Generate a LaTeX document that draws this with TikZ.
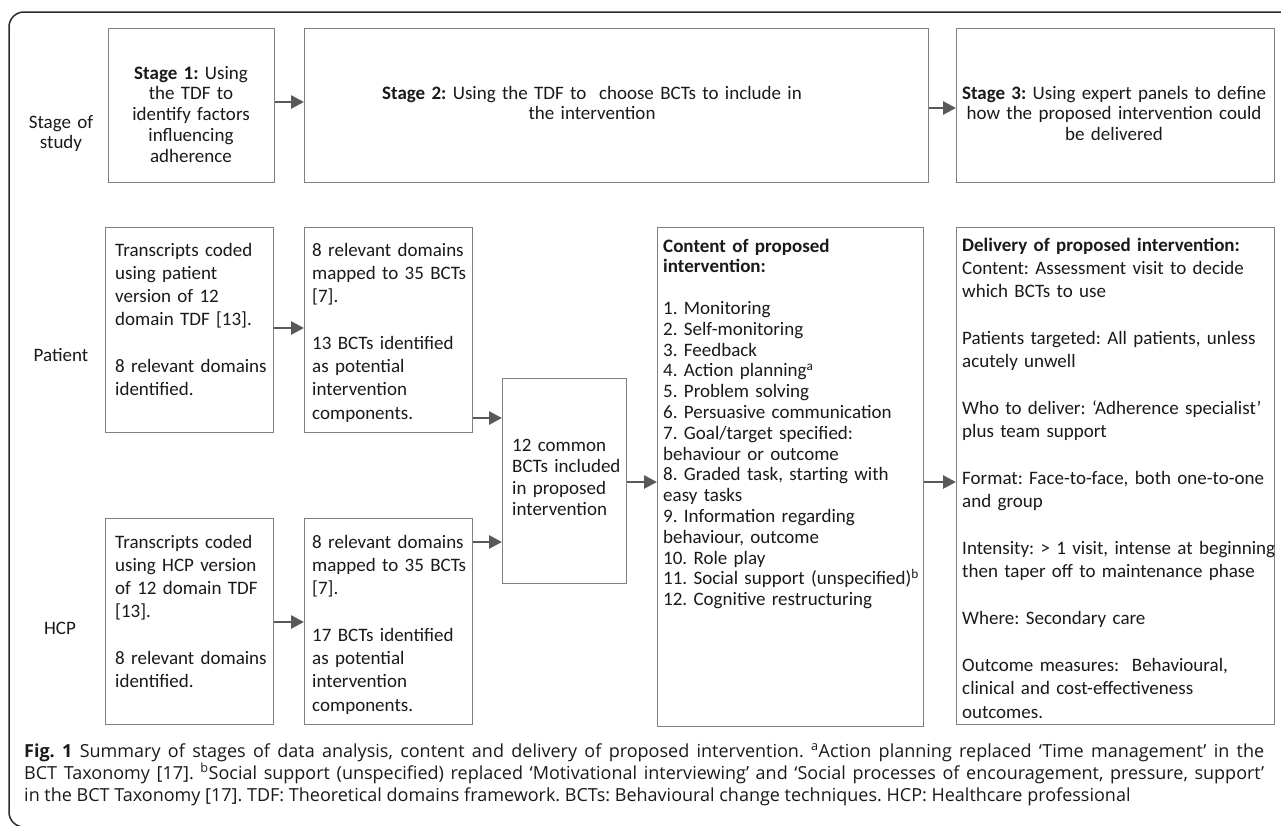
\documentclass[tikz,border=0pt]{standalone}
\usepackage{fontspec}
\setmainfont{Carlito}
\newfontfamily\capfont{Open Sans}
\usetikzlibrary{arrows.meta}
\frenchspacing
\definecolor{boxgray}{HTML}{808080}
\definecolor{arrgray}{HTML}{595959}
\definecolor{framec}{HTML}{2A2A2A}
\definecolor{txt}{HTML}{1A1A1A}
\newcommand{\bxfont}{\fontsize{19}{20.8}\selectfont}
\newcommand{\bxfontw}{\fontsize{19}{23.3}\selectfont}
\newcommand{\cpfont}{\capfont\fontsize{18}{21.5}\selectfont}
\newcommand{\capline}[1]{\hbox to 1240pt{#1}}
\begin{document}
\frenchspacing
\begin{tikzpicture}[x=1pt,y=-1pt,
  box/.style={draw=boxgray, line width=1.1pt, inner sep=0pt, anchor=north west},
  arr/.style={draw=arrgray, line width=2.7pt, -{Triangle[length=13pt,width=13pt]}},
  lt/.style={anchor=base west, inner sep=0pt, text width=330pt, align=left, text=txt},
  ct/.style={anchor=base, inner sep=0pt, align=center, text=txt},
  captxt/.style={anchor=base west, inner sep=0pt, text=txt, font=\cpfont}]
\useasboundingbox (0,0) rectangle (1281,825);
\clip (0,0) rectangle (1281,825);
\fill[white] (0,0) rectangle (1281,825);
% outer frame
\draw[framec, line width=1.5pt, rounded corners=15pt] (1300,12) -- (9,12) -- (9,827) -- (1300,827);
% boxes
\node[box, minimum width=166pt, minimum height=154pt] (s1) at (108,28) {};
\node[box, minimum width=624pt, minimum height=154pt] (s2) at (304,28) {};
\node[box, minimum width=318pt, minimum height=154pt] (s3) at (956,28) {};
\node[box, minimum width=168pt, minimum height=205pt] (p1) at (105,227) {};
\node[box, minimum width=168pt, minimum height=205pt] (p2) at (304,227) {};
\node[box, minimum width=124pt, minimum height=205pt] (mid) at (502,378) {};
\node[box, minimum width=168pt, minimum height=206pt] (h1) at (105,518) {};
\node[box, minimum width=168pt, minimum height=206pt] (h2) at (304,518) {};
\node[box, minimum width=266pt, minimum height=499pt] (con) at (657,227) {};
\node[box, minimum width=318pt, minimum height=497pt] (del) at (956,227) {};
% arrows
\draw[arr] (s1.east |- 0,102) -- (s2.west |- 0,102);
\draw[arr] (s2.east |- 0,108) -- (s3.west |- 0,108);
\draw[arr] (p1.east |- 0,328) -- (p2.west |- 0,328);
\draw[arr] (p2.east |- 0,418) -- (mid.west |- 0,418);
\draw[arr] (h1.east |- 0,622) -- (h2.west |- 0,622);
\draw[arr] (h2.east |- 0,542) -- (mid.west |- 0,542);
\draw[arr] (mid.east |- 0,482) -- (con.west |- 0,482);
\draw[arr] (con.east |- 0,482) -- (del.west |- 0,482);
% row labels
\node[ct, font=\bxfont, text width=100pt] (lstage) at (61,128) {Stage of\\study};
\node[ct, font=\bxfont, text width=100pt] (lpat) at (61,361) {Patient};
\node[ct, font=\bxfont, text width=100pt] (lhcp) at (60,634) {HCP};
% stage texts
\node[ct, font=\bxfont, text width=160pt] (t1) at (191,79) {\textbf{Stage 1:} Using\\the TDF to\\identify factors\\influencing\\adherence};
\node[ct, font=\bxfont, text width=500pt] (t2) at (592,99) {\textbf{Stage 2:} Using the TDF to\ \ choose BCTs to include in\\the intervention};
\node[ct, font=\bxfont, text width=318pt] (t3) at (1114,99) {\textbf{Stage 3:} Using expert panels to define\\how the proposed intervention could\\be delivered};
% patient row
\node[lt, font=\bxfontw] (tp1) at (115,256) {Transcripts coded\\using patient\\version of 12\\domain TDF [13].\\\mbox{}\\8 relevant domains\\identified.};
\node[lt, font=\bxfontw] (tp2) at (312,256) {8 relevant domains\\mapped to 35 BCTs\\{[7]}.\\\mbox{}\\13 BCTs identified\\as potential\\intervention\\components.};
% HCP row
\node[lt, font=\bxfontw] (th1) at (115,548) {Transcripts coded\\using HCP version\\of 12 domain TDF\\{[13]}.\\\mbox{}\\8 relevant domains\\identified.};
\node[lt, font=\bxfontw] (th2) at (312,548) {8 relevant domains\\mapped to 35 BCTs\\{[7]}.\\\mbox{}\\17 BCTs identified\\as potential\\intervention\\components.};
% middle
\node[lt, font=\fontsize{19}{21.5}\selectfont] (tm) at (512,451) {12 common\\BCTs included\\in proposed\\intervention};
% content
\node[lt, font=\bxfont] (tc) at (663,252) {\textbf{Content of proposed}\\\textbf{intervention:}\\\mbox{}\\1. Monitoring\\2. Self-monitoring\\3. Feedback\\4. Action planning\textsuperscript{a}\\5. Problem solving\\6. Persuasive communication\\7. Goal/target specified:\\behaviour or outcome\\8. Graded task, starting with\\easy tasks\\9. Information regarding\\behaviour, outcome\\10. Role play\\11. Social support (unspecified)\textsuperscript{b}\\12. Cognitive restructuring};
% delivery
\node[lt, font=\fontsize{19}{23.35}\selectfont] (td) at (962,251) {\textbf{Delivery of proposed intervention:}\\Content: Assessment visit to decide\\which BCTs to use\\\mbox{}\\Patients targeted: All patients, unless\\acutely unwell\\\mbox{}\\Who to deliver: ‘Adherence specialist’\\plus team support\\\mbox{}\\Format: Face-to-face, both one-to-one\\and group\\\mbox{}\\Intensity: > 1 visit, intense at beginning\\then taper off to maintenance phase\\\mbox{}\\Where: Secondary care\\\mbox{}\\Outcome measures:\ \ Behavioural,\\clinical and cost-effectiveness\\outcomes.};
% caption
\node[captxt] (c1) at (24,757) {\capline{\textbf{Fig. 1} Summary of stages of data analysis, content and delivery of proposed intervention. \textsuperscript{a}Action planning replaced ‘Time management’ in the}};
\node[captxt] (c2) at (24,779) {\capline{BCT Taxonomy [17]. \textsuperscript{b}Social support (unspecified) replaced ‘Motivational interviewing’ and ‘Social processes of encouragement, pressure, support’}};
\node[captxt] (c3) at (24,801) {in the BCT Taxonomy [17]. TDF: Theoretical domains framework. BCTs: Behavioural change techniques. HCP: Healthcare professional};
\end{tikzpicture}
\end{document}
